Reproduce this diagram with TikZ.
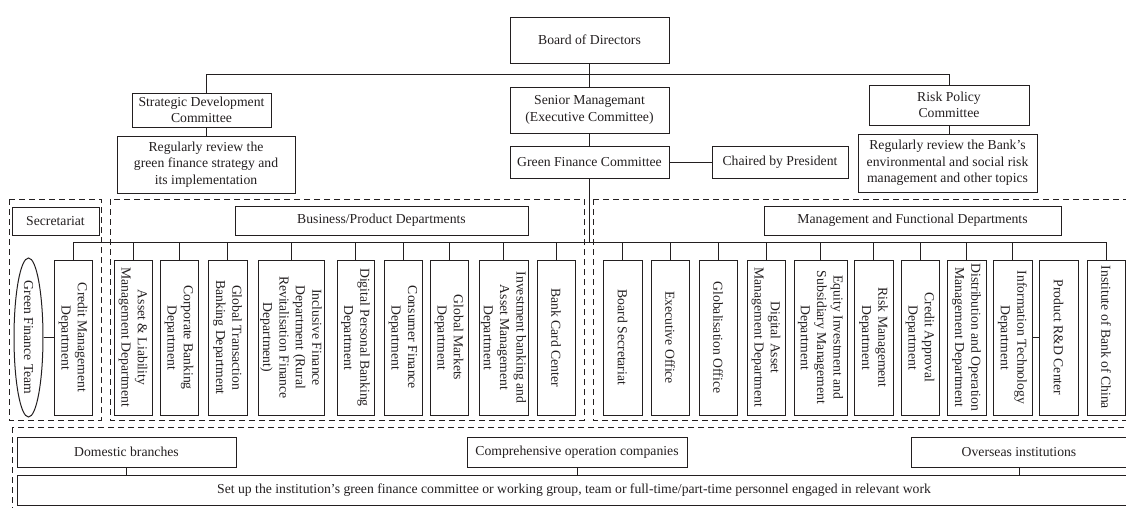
\documentclass[tikz,border=0pt]{standalone}
\usepackage{fontspec}
\setmainfont{Liberation Serif}
\usetikzlibrary{shapes.geometric}
\definecolor{ink}{RGB}{35,31,32}

\begin{document}
\begin{tikzpicture}[x=1pt, y=-1pt, color=ink,
  font=\fontsize{13.7}{16.4}\selectfont,
  box/.style={draw, line width=1pt, align=center, inner sep=1pt},
  dept/.style={draw, line width=1pt, align=center, inner sep=1pt, rotate=-90, minimum width=155pt},
  group/.style={line width=0.9pt, dash pattern=on 6pt off 4pt},
  link/.style={line width=1pt}]
\useasboundingbox (0,0) rectangle (1126,507);
\clip (0,0) rectangle (1126,507);

% Board and committees
\node[box, minimum width=159pt, minimum height=46pt] (board) at (589.5,40) {Board of Directors};
\node[box, minimum width=159pt, minimum height=46pt] (senior) at (589.5,110) {Senior Managemant\\(Executive Committee)};
\node[box, minimum width=159pt, minimum height=32pt] (gfc) at (589.5,162) {Green Finance Committee};
\node[box, minimum width=136pt, minimum height=32pt] (chair) at (780,162) {Chaired by President};
\node[box, minimum width=139pt, minimum height=34pt] (sdc) at (201.5,110) {Strategic Development\\Committee};
\node[box, minimum width=178pt, minimum height=57pt] (rev1) at (206,164.5) {Regularly review the\\green finance strategy and\\its implementation};
\node[box, minimum width=160pt, minimum height=40pt] (rpc) at (949,105) {Risk Policy\\Committee};
\node[box, minimum width=179pt, minimum height=58pt] (rev2) at (947.5,163) {Regularly review the Bank’s\\environmental and social risk\\management and other topics};

\coordinate (topbar) at (589.5,74);
\draw[link] (rev1.north |- sdc.north) -- (rev1.north |- topbar) -- (rpc.north |- topbar) -- (rpc.north);
\draw[link] (board) -- (senior);
\draw[link] (senior) -- (gfc);
\draw[link] (gfc) -- (chair);
\draw[link] (rev1.north |- sdc.south) -- (rev1.north);
\draw[link] (rpc.south) -- (rpc.south |- rev2.north);

% Dashed groups
\draw[group] (9,199) rectangle (101,420);
\draw[group] (110,199) rectangle (584,420);
\draw[group] (593,199) rectangle (1140,420);
\draw[group] (12,427) rectangle (1140,520);

\node[box, minimum width=87pt, minimum height=28pt] (secr) at (55.5,221) {Secretariat};
\node[box, minimum width=293pt, minimum height=29pt] (bpd) at (381.5,220.5) {Business/Product Departments};
\node[box, minimum width=297pt, minimum height=29pt] (mfd) at (912.5,220.5) {Management and Functional Departments};

% Departments
\node[draw, ellipse, line width=1pt, rotate=-90, minimum width=159pt, minimum height=29pt, inner sep=0pt] (team) at (28.5,337.5) {\makebox[0pt]{Green Finance Team}};
\node[dept, minimum height=38pt] (credit) at (73,337.5) {Credit Management\\Department};
\node[dept, minimum height=38pt] (asset) at (133,337.5) {Asset \& Liability\\Management Department};
\node[dept, minimum height=38pt] (corp) at (179,337.5) {Corporate Banking\\Department};
\node[dept, minimum height=39pt] (gtb) at (227.5,337.5) {Global Transaction\\Banking Department};
\node[dept, minimum height=66pt] (incl) at (291,337.5) {Inclusive Finance\\Department (Rural\\Revitalisation Finance\\Department)};
\node[dept, minimum height=37pt] (dpb) at (355.5,337.5) {Digital Personal Banking\\Department};
\node[dept, minimum height=38pt] (cons) at (403,337.5) {Consumer Finance\\Department};
\node[dept, minimum height=38pt] (gmk) at (449,337.5) {Global Markets\\Department};
\node[dept, minimum height=49pt] (inv) at (503.5,337.5) {Investment banking and\\Asset Management\\Department};
\node[dept, minimum height=38pt] (card) at (556,337.5) {Bank Card Center};
\node[dept, minimum height=39pt] (bsec) at (622.5,337.5) {Board Secretariat};
\node[dept, minimum height=38pt] (exec) at (670,337.5) {Executive Office};
\node[dept, minimum height=38pt] (glob) at (718,337.5) {Globalisation Office};
\node[dept, minimum height=38pt] (dam) at (766,337.5) {Digital Asset\\Management Department};
\node[dept, minimum height=53pt] (eqi) at (820.5,337.5) {Equity Investment and\\Subsidiary Management\\Department};
\node[dept, minimum height=39pt] (risk) at (873.5,337.5) {Risk Management\\Department};
\node[dept, minimum height=38pt] (cred) at (920,337.5) {Credit Approval\\Department};
\node[dept, minimum height=39pt] (dist) at (966.5,337.5) {Distribution and Operation\\Management Department};
\node[dept, minimum height=39pt] (it) at (1012.5,337.5) {Information Technology\\Department};
\node[dept, minimum height=39pt] (prd) at (1058.5,337.5) {Product R\&D Center};
\node[dept, minimum height=38pt] (inst) at (1106,337.5) {Institute of Bank of China};

\coordinate (bus) at (589.5,242);
\draw[link] (credit.west |- bus) -- (inst.west |- bus);
\draw[link] (gfc) -- (gfc |- bus);
\foreach \d in {credit,asset,corp,gtb,incl,dpb,cons,gmk,inv,card,bsec,exec,glob,dam,eqi,risk,cred,dist,it,inst}
  \draw[link] (\d.west) -- (\d.west |- bus);
\draw[link] (team) -- (credit);
\draw[link] (it) -- (prd);

% Branches and institutions
\node[box, minimum width=219pt, minimum height=30pt] (dom) at (126.5,452) {Domestic branches};
\node[box, minimum width=220pt, minimum height=30pt] (comp) at (577,452) {Comprehensive operation companies};
\node[box, minimum width=216pt, minimum height=30pt] (ovs) at (1019,452) {Overseas institutions};
\node[box, minimum width=1114pt, minimum height=30pt] (setup) at (574,490) {Set up the institution’s green finance committee or working group, team or full-time/part-time personnel engaged in relevant work};
\foreach \b in {dom,comp,ovs}
  \draw[link] (\b) -- (\b |- setup.north);
\end{tikzpicture}
\end{document}
